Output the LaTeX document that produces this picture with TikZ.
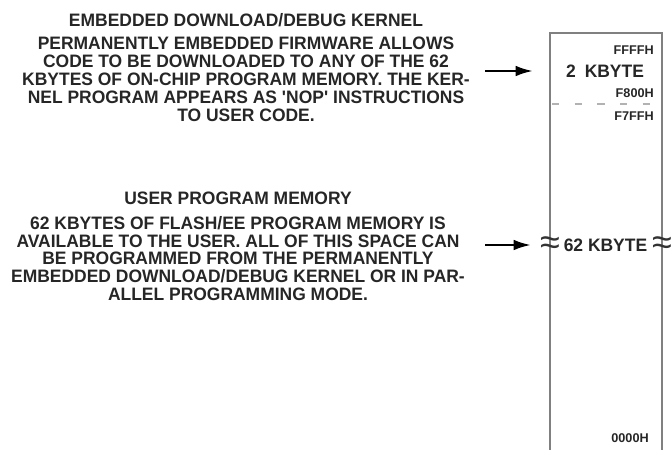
\documentclass[tikz,border=0pt]{standalone}
\usepackage{fontspec}
\setmainfont{Liberation Sans}
\newfontfamily\estreita[FakeStretch=0.97]{Liberation Sans}
\usetikzlibrary{arrows.meta}

\begin{document}
\begin{tikzpicture}[x=0.75pt,y=-0.75pt,
    texto/.style={font=\estreita\bfseries\fontsize{13.5}{13.35}\selectfont, align=center, inner sep=0pt, text=black!85},
    endereco/.style={font=\bfseries\fontsize{9.5}{10}\selectfont, inner sep=0pt, anchor=base east, text=black!85},
    tamanho/.style={font=\estreita\bfseries\fontsize{13.5}{14}\selectfont, inner sep=0pt, anchor=base, text=black!85},
    corte/.style={font=\fontsize{27}{27}\selectfont, inner sep=0pt, text=black!80},
    seta/.style={line width=1.9pt, -{Latex[length=13pt,width=8pt]}},
    caixa/.style={line width=1.4pt, draw=gray}
]
    \useasboundingbox (0,0) rectangle (672,450);

    % memoria
    \draw[caixa] (550,450) -- (550,33) -- (662,33) -- (662,450);
    \draw[gray!60, line width=1.2pt, dash pattern=on 5.5pt off 11.5pt] (552,104) -- (662,104);

    \draw
    (246,26)node[texto, anchor=base](kernel){EMBEDDED DOWNLOAD/DEBUG KERNEL}
    (246,37)node[texto, anchor=north](kerneltxt){PERMANENTLY EMBEDDED FIRMWARE ALLOWS\\
        CODE TO BE DOWNLOADED TO ANY OF THE 62\\
        KBYTES OF ON-CHIP PROGRAM MEMORY. THE KER-\\
        NEL PROGRAM APPEARS AS \textquotesingle NOP\textquotesingle\ INSTRUCTIONS\\
        TO USER CODE.}

    (238,204)node[texto, anchor=base](user){USER PROGRAM MEMORY}
    (238,216)node[texto, anchor=north](usertxt){62 KBYTES OF FLASH/EE PROGRAM MEMORY IS\\
        AVAILABLE TO THE USER. ALL OF THIS SPACE CAN\\
        BE PROGRAMMED FROM THE PERMANENTLY\\
        EMBEDDED DOWNLOAD/DEBUG KERNEL OR IN PAR-\\
        ALLEL PROGRAMMING MODE.}

    (654,54.5)node[endereco](ffff){FFFFH}
    (605,77.5)node[tamanho](kb2){2\enspace KBYTE}
    (654,97.5)node[endereco](f800){F800H}
    (654,120.5)node[endereco](f7ff){F7FFH}

    (605.5,251)node[tamanho](kb62){62 KBYTE}
    (550,246)node[corte](cortea){≈}
    (662,246)node[corte](corteb){≈}
    (649,442.5)node[endereco](zero){0000H}
    ;

    \coordinate (s1) at (485,71);
    \coordinate (e1) at (533,71);
    \coordinate (s2) at (485,245);
    \coordinate (e2) at (531,245);
    \draw[seta] (s1) -- (e1);
    \draw[seta] (s2) -- (e2);
\end{tikzpicture}
\end{document}
